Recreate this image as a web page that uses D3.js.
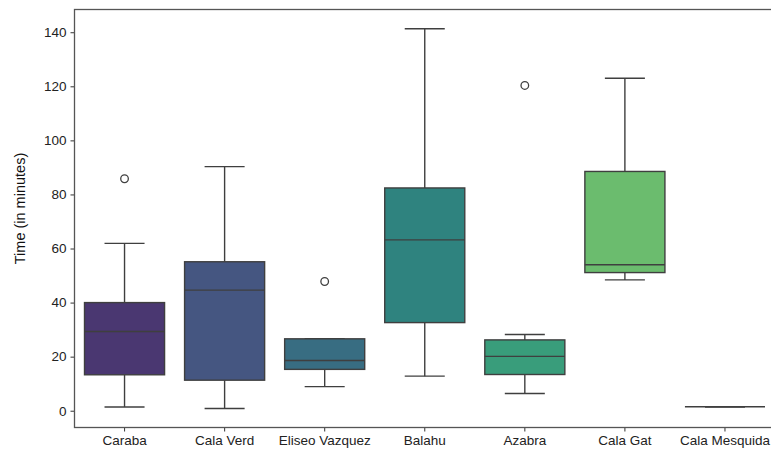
<!DOCTYPE html>
<html><head><meta charset="utf-8">
<script src="https://cdn.jsdelivr.net/npm/d3@7"></script>
<style>body{margin:0;background:#fff}svg{display:block;font-family:"Liberation Sans",Arial,sans-serif}</style>
</head><body><svg id="c" width="771" height="453"></svg>
<script>
const categories = ["Caraba","Cala Verd","Eliseo Vazquez","Balahu","Azabra","Cala Gat","Cala Mesquida"];
const whiskerLow = [1.4, 0.85, 8.9, 12.8, 6.4, 48.4, 1.5];
const q1Values   = [13.3, 11.3, 15.3, 32.6, 13.4, 51.1, 1.5];
const medians    = [29.3, 44.6, 18.6, 63.2, 20.1, 54.0, 1.5];
const q3Values   = [40.0, 55.1, 26.6, 82.4, 26.2, 88.5, 1.5];
const whiskerHigh= [61.9, 90.3, 26.6, 141.3, 28.2, 123.0, 1.5];
const outliers   = [[85.8], [], [47.8], [], [120.3], [], []];
const yTicks = [0,20,40,60,80,100,120,140];
const yLabel = "Time (in minutes)";

(function(){
const svg = d3.select("#c");
const mLeft = 74.5, mRight = 775, mTop = 9.5, mBottom = 427.5;
const x = d3.scaleBand().domain(categories).range([mLeft, mRight]).paddingInner(0).paddingOuter(0);
const y = d3.scaleLinear().domain([-6.2, 148.4]).range([mBottom, mTop]);

const colors = categories.map((c,i)=>{
  const h = d3.hsl(d3.interpolateViridis((i+1)/(categories.length+1)));
  h.s *= 0.75; return h.formatHex();
});
const edge = "#3f3f3f";
const bw = x.bandwidth()*0.8;

const g = svg.append("g");
categories.forEach((c,i)=>{
  const cx = x(c)+x.bandwidth()/2;
  const gg = g.append("g");
  gg.append("line").attr("x1",cx).attr("x2",cx).attr("y1",y(whiskerLow[i])).attr("y2",y(q1Values[i])).attr("stroke",edge).attr("stroke-width",1.4);
  gg.append("line").attr("x1",cx).attr("x2",cx).attr("y1",y(q3Values[i])).attr("y2",y(whiskerHigh[i])).attr("stroke",edge).attr("stroke-width",1.4);
  [whiskerLow[i], whiskerHigh[i]].forEach(v=>{
    gg.append("line").attr("x1",cx-bw/4).attr("x2",cx+bw/4).attr("y1",y(v)).attr("y2",y(v)).attr("stroke",edge).attr("stroke-width",1.4);
  });
  gg.append("rect").attr("x",cx-bw/2).attr("width",bw)
    .attr("y",y(q3Values[i])).attr("height",Math.max(0,y(q1Values[i])-y(q3Values[i])))
    .attr("fill",colors[i]).attr("stroke",edge).attr("stroke-width",1.4);
  gg.append("line").attr("x1",cx-bw/2).attr("x2",cx+bw/2).attr("y1",y(medians[i])).attr("y2",y(medians[i])).attr("stroke",edge).attr("stroke-width",1.4);
  outliers[i].forEach(v=>{
    gg.append("circle").attr("cx",cx).attr("cy",y(v)).attr("r",3.8).attr("fill","none").attr("stroke",edge).attr("stroke-width",1.3);
  });
});

const ya = svg.append("g").attr("transform",`translate(${mLeft},0)`)
  .call(d3.axisLeft(y).tickValues(yTicks).tickSize(4).tickPadding(4));
const xa = svg.append("g").attr("transform",`translate(0,${mBottom})`)
  .call(d3.axisBottom(x).tickSize(4).tickPadding(4));
[ya,xa].forEach(a=>{
  a.select(".domain").remove();
  a.selectAll("line").attr("stroke","#444").attr("stroke-width",1.1);
  a.selectAll("text").attr("fill","#222").style("font-size","13.5px");
});
svg.append("rect").attr("x",mLeft).attr("y",mTop).attr("width",mRight-mLeft).attr("height",mBottom-mTop)
  .attr("fill","none").attr("stroke","#555").attr("stroke-width",1.3);

svg.append("text").attr("transform",`translate(25,${(mTop+mBottom)/2 - 10}) rotate(-90)`)
  .attr("text-anchor","middle").attr("fill","#111").style("font-size","14.5px").text(yLabel);
})();
</script></body></html>
